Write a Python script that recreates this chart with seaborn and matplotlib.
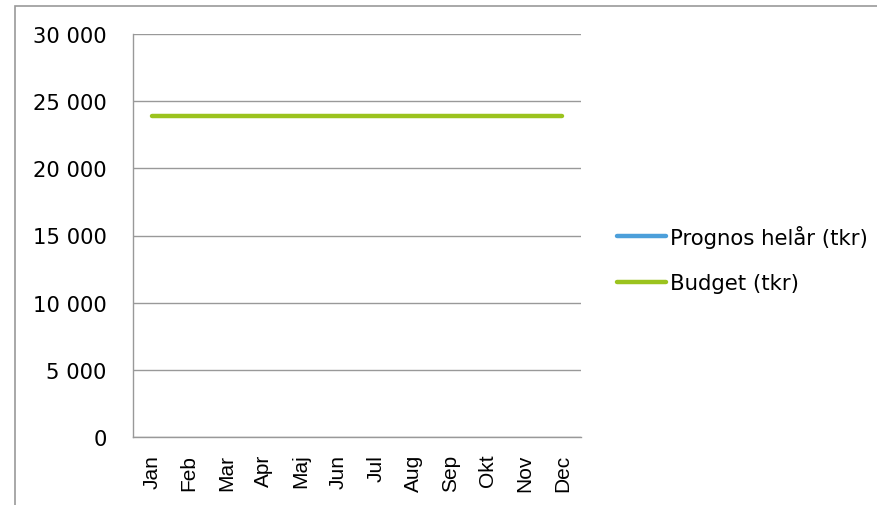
import numpy as np
import pandas as pd
import matplotlib
matplotlib.use("Agg")
import matplotlib.pyplot as plt
from matplotlib.patches import Rectangle
import seaborn as sns

# data
months = ["Jan", "Feb", "Mar", "Apr", "Maj", "Jun", "Jul", "Aug", "Sep", "Okt", "Nov", "Dec"]
prognos = [np.nan] * 12          # no values shown in the chart
budget = [23900] * 12
series_names = ["Prognos helår (tkr)", "Budget (tkr)"]
colors = ["#4C9FDA", "#9BC31E"]

df = pd.DataFrame({
    "month": months * 2,
    "pos": list(range(12)) * 2,
    "value": prognos + budget,
    "series": [series_names[0]] * 12 + [series_names[1]] * 12,
})

sns.set_style("white")
plt.rcParams["font.family"] = ["DejaVu Sans"]

fig = plt.figure(figsize=(8.77, 5.06), dpi=100)
ax = fig.add_axes([133 / 877, 1 - 438 / 506, (581 - 133) / 877, (438 - 35) / 506])

sns.lineplot(data=df, x="pos", y="value", hue="series", hue_order=series_names,
             palette=colors, linewidth=3.2, ax=ax, solid_capstyle="round")

ax.set_xlim(-0.5, 11.5)
ax.set_ylim(0, 30000)
ax.set_yticks(range(0, 30001, 5000))
ax.set_yticklabels([f"{v:,}".replace(",", " ") for v in range(0, 30001, 5000)],
                   fontsize=15.2, color="black")
ax.set_xticks(range(12))
ax.set_xticklabels(months, rotation=90, fontsize=15, family="Liberation Sans", color="black")
ax.tick_params(axis="x", length=0, pad=12)
ax.tick_params(axis="y", length=0, pad=19)
ax.set_xlabel("")
ax.set_ylabel("")
ax.yaxis.grid(True, color="#999999", linewidth=1)
for s in ["top", "right"]:
    ax.spines[s].set_visible(False)
for s in ["left", "bottom"]:
    ax.spines[s].set_color("#999999")
    ax.spines[s].set_linewidth(1)

leg = ax.legend(loc="center left", bbox_to_anchor=(1.080, 0.442), frameon=False,
                fontsize=15.3, handlelength=2.3, handletextpad=0.2, labelspacing=1.2,
                borderpad=0, borderaxespad=0)
for t in leg.get_texts():
    t.set_color("black")

# outer frame (cropped at right and bottom)
fig.patches.append(Rectangle((15 / 877, -0.1), 1.2, 1 - 7 / 506 + 0.1,
                             transform=fig.transFigure, fill=False,
                             edgecolor="#999999", linewidth=1.2))

fig.savefig("out.png", dpi=100)
